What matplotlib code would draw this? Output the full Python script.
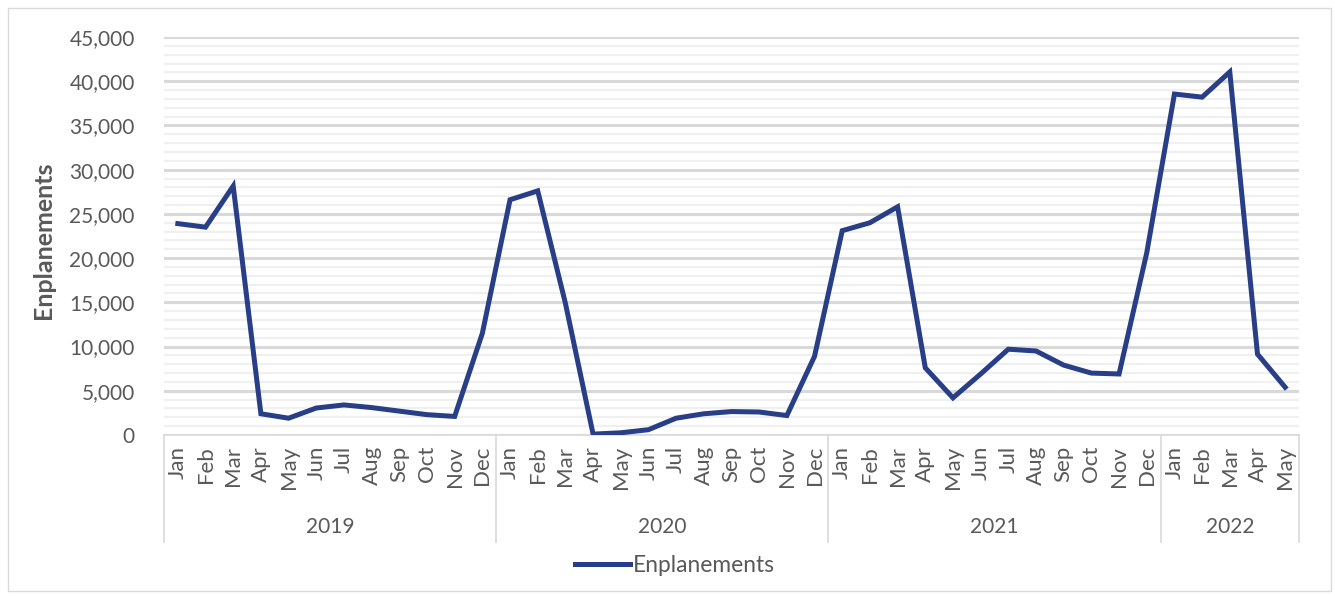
import numpy as np
import matplotlib
matplotlib.use('Agg')
import matplotlib.pyplot as plt
from matplotlib.ticker import MultipleLocator, FuncFormatter
from matplotlib.patches import Rectangle
import matplotlib.transforms as mtransforms

plt.rcParams['font.family'] = ['Lato', 'DejaVu Sans']

# data
years = ['2019', '2020', '2021', '2022']
months_per_year = [12, 12, 12, 5]
month_names = ['Jan', 'Feb', 'Mar', 'Apr', 'May', 'Jun',
               'Jul', 'Aug', 'Sep', 'Oct', 'Nov', 'Dec']
enpl_2019 = [23900, 23500, 28150, 2400, 1900, 3050, 3400, 3100, 2700, 2300, 2100, 11500]
enpl_2020 = [26600, 27600, 14900, 100, 250, 600, 1900, 2400, 2650, 2600, 2200, 8900]
enpl_2021 = [23100, 24000, 25800, 7600, 4200, 6900, 9700, 9500, 7900, 7000, 6900, 20600]
enpl_2022 = [38550, 38200, 41050, 9150, 5400]

values = enpl_2019 + enpl_2020 + enpl_2021 + enpl_2022
labels = []
for n in months_per_year:
    labels += month_names[:n]
x = np.arange(len(values))

line_color = '#283F87'
text_color = '#595959'
grid_major = '#D9D9D9'
grid_minor = '#F0F0F0'

fig = plt.figure(figsize=(13.35, 5.96), dpi=100)
ax = fig.add_axes([164/1335, 1 - 435/596, (1299-164)/1335, (435-37)/596])

ax.plot(x, values, color=line_color, lw=3.6, solid_joinstyle='miter',
        label='Enplanements', zorder=3)

ax.set_xlim(-0.5, len(values) - 0.5)
ax.set_ylim(0, 45000)
ax.yaxis.set_major_locator(MultipleLocator(5000))
ax.yaxis.set_minor_locator(MultipleLocator(1000))
ax.yaxis.set_major_formatter(FuncFormatter(lambda v, p: f'{int(v):,}'))
ax.grid(which='major', axis='y', color=grid_major, lw=2.2, zorder=1)
ax.grid(which='minor', axis='y', color=grid_minor, lw=1.6, zorder=0)
ax.set_axisbelow(True)

for s in ['top', 'right', 'left']:
    ax.spines[s].set_visible(False)
ax.spines['bottom'].set_color(grid_major)
ax.spines['bottom'].set_linewidth(1.2)

ax.tick_params(axis='y', which='both', length=0, labelsize=15, labelcolor=text_color, pad=21)
ax.set_xticks(x)
ax.set_xticklabels(labels, rotation=90)
ax.tick_params(axis='x', length=0, labelsize=16, labelcolor=text_color, pad=8)

ax.set_ylabel('Enplanements', fontsize=18, fontweight='bold', color=text_color)
ax.yaxis.set_label_coords(-0.096, 0.49)

# year groups below the month labels
trans = mtransforms.blended_transform_factory(ax.transData, ax.transAxes)
start = 0
bounds = [-0.5]
for yr, n in zip(years, months_per_year):
    mid = start + (n - 1) / 2
    ax.text(mid, -0.231, yr, transform=trans, ha='center', va='center',
            fontsize=15, color=text_color)
    start += n
    bounds.append(start - 0.5)
for b in bounds:
    ax.plot([b, b], [0, -0.269], transform=trans, color=grid_major, lw=1.2,
            clip_on=False)

fig.legend(loc='center', bbox_to_anchor=(675/1335, 1 - 565/596), frameon=False,
           fontsize=16.4, handlelength=2.4, handletextpad=0.12, labelcolor=text_color)

fig.patches.append(Rectangle((8/1335, 5/596), 1323/1335, 583/596,
                             transform=fig.transFigure, fill=False,
                             edgecolor='#D9D9D9', lw=1))

fig.savefig('out.png', dpi=100)
